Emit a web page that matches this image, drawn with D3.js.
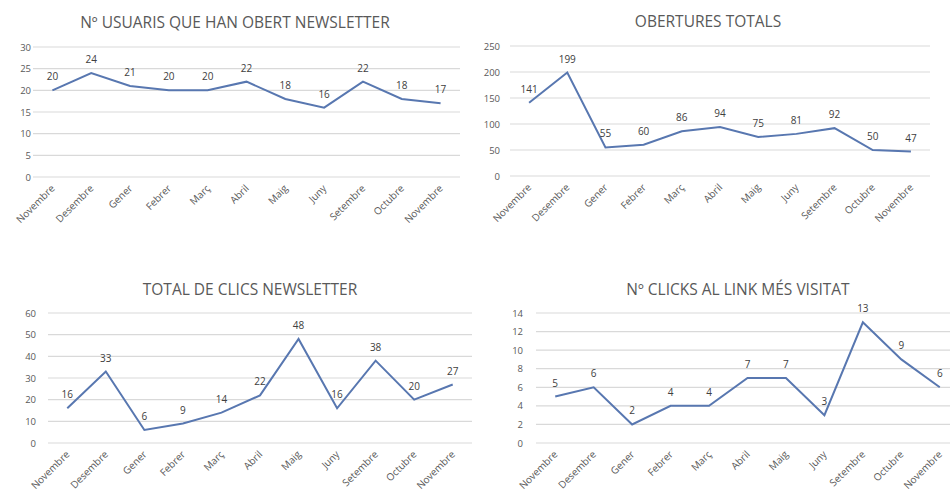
<!DOCTYPE html>
<html>
<head>
<meta charset="utf-8">
<script src="https://cdn.jsdelivr.net/npm/d3@7"></script>
<style>
  body { margin: 0; background: #fff; }
  text { font-family: "Open Sans", "Liberation Sans", sans-serif; }
</style>
</head>
<body>
<div id="chart"></div>
<script>
// month labels (shared by all four charts)
var months = ["Novembre", "Desembre", "Gener", "Febrer", "Març", "Abril", "Maig", "Juny", "Setembre", "Octubre", "Novembre"];

// series values
var usuaris = [20, 24, 21, 20, 20, 22, 18, 16, 22, 18, 17];
var obertures = [141, 199, 55, 60, 86, 94, 75, 81, 92, 50, 47];
var clics = [16, 33, 6, 9, 14, 22, 48, 16, 38, 20, 27];
var clicksLink = [5, 6, 2, 4, 4, 7, 7, 3, 13, 9, 6];

// titles and y ticks
var titles = ["Nº USUARIS QUE HAN OBERT NEWSLETTER", "OBERTURES TOTALS", "TOTAL DE CLICS NEWSLETTER", "Nº CLICKS AL LINK MÉS VISITAT"];
var ticks1 = [0, 5, 10, 15, 20, 25, 30];
var ticks2 = [0, 50, 100, 150, 200, 250];
var ticks3 = [0, 10, 20, 30, 40, 50, 60];
var ticks4 = [0, 2, 4, 6, 8, 10, 12, 14];

var svgWidth = 950;
var svgHeight = 494;

var svg = d3.select("#chart")
  .append("svg")
  .attr("width", svgWidth)
  .attr("height", svgHeight);

// panel layout
var panels = [
  { values: usuaris, ticks: ticks1, title: titles[0], x0: 33, x1: 460, y0: 47, y1: 177, labelX: 31, titleX: 235, titleY: 28 },
  { values: obertures, ticks: ticks2, title: titles[1], x0: 510, x1: 930, y0: 46, y1: 176, labelX: 500, titleX: 708, titleY: 27 },
  { values: clics, ticks: ticks3, title: titles[2], x0: 48, x1: 472, y0: 313, y1: 443, labelX: 36, titleX: 250, titleY: 295 },
  { values: clicksLink, ticks: ticks4, title: titles[3], x0: 536, x1: 959, y0: 313, y1: 443, labelX: 523, titleX: 738, titleY: 295 }
];

function drawPanel(p) {
  var g = svg.append("g");

  var x = d3.scaleBand()
    .domain(d3.range(months.length))
    .range([p.x0, p.x1]);

  var y = d3.scaleLinear()
    .domain([0, d3.max(p.ticks)])
    .range([p.y1, p.y0]);

  // title
  g.append("text")
    .attr("x", p.titleX)
    .attr("y", p.titleY)
    .attr("text-anchor", "middle")
    .attr("fill", "#595959")
    .style("font-size", "15.5px")
    .text(p.title);

  // gridlines
  g.selectAll(".grid")
    .data(p.ticks)
    .enter()
    .append("line")
    .attr("x1", p.x0)
    .attr("x2", p.x1)
    .attr("y1", d => y(d))
    .attr("y2", d => y(d))
    .attr("stroke", "#d9d9d9")
    .attr("stroke-width", 1.2);

  // y tick labels
  g.selectAll(".ylab")
    .data(p.ticks)
    .enter()
    .append("text")
    .attr("x", p.labelX)
    .attr("y", d => y(d) + 3.5)
    .attr("text-anchor", "end")
    .attr("fill", "#595959")
    .style("font-size", "9.5px")
    .text(d => d);

  // x tick labels, rotated
  g.selectAll(".xlab")
    .data(months)
    .enter()
    .append("text")
    .attr("transform", (d, i) => `translate(${x(i) + x.bandwidth() / 2 + 3}, ${p.y1 + 12}) rotate(-45)`)
    .attr("text-anchor", "end")
    .attr("fill", "#595959")
    .style("font-size", "10px")
    .text(d => d);

  // the line
  var line = d3.line()
    .x((d, i) => x(i) + x.bandwidth() / 2)
    .y(d => y(d));

  g.append("path")
    .datum(p.values)
    .attr("d", line)
    .attr("fill", "none")
    .attr("stroke", "#5877b0")
    .attr("stroke-width", 2);

  // data labels
  g.selectAll(".dlab")
    .data(p.values)
    .enter()
    .append("text")
    .attr("x", (d, i) => x(i) + x.bandwidth() / 2)
    .attr("y", d => y(d) - 10)
    .attr("text-anchor", "middle")
    .attr("fill", "#404040")
    .style("font-size", "10px")
    .text(d => d);
}

panels.forEach(drawPanel);
</script>
</body>
</html>
